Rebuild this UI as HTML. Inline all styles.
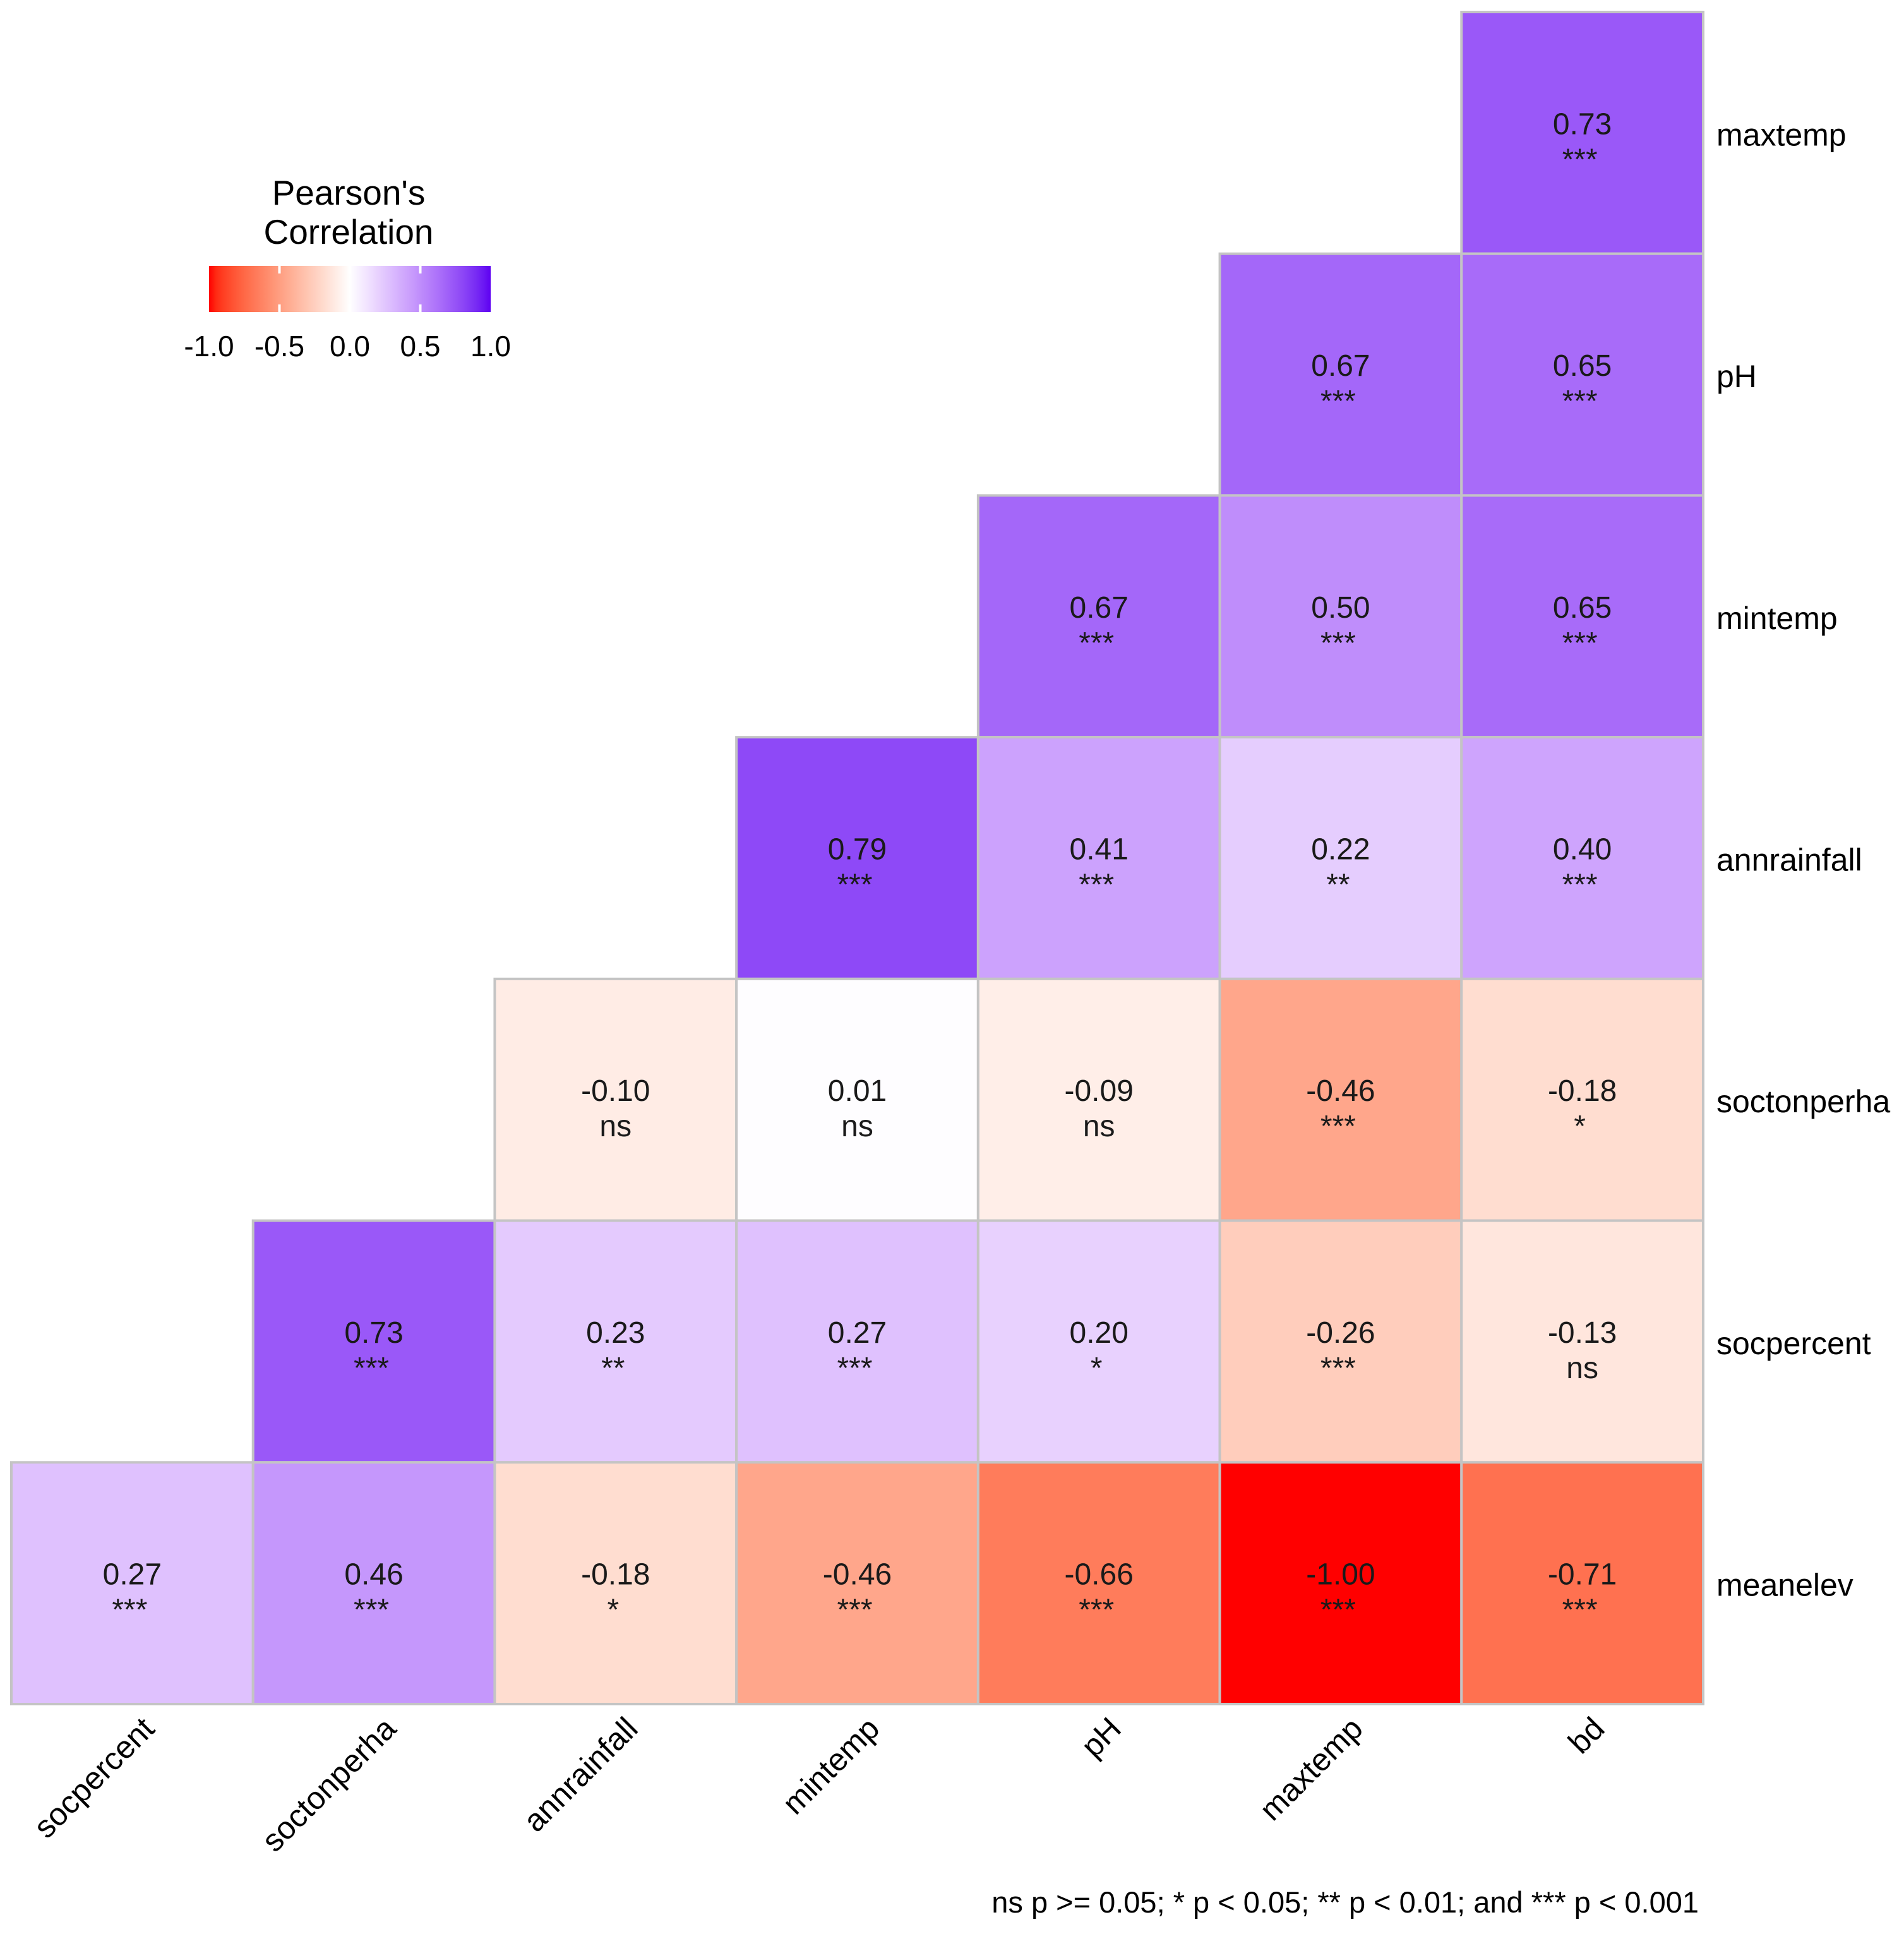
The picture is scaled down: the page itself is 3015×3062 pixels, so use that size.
<!DOCTYPE html>
<html><head><meta charset="utf-8"><style>
html,body{margin:0;padding:0;background:#fff;}
svg{display:block;font-family:"Liberation Sans",Arial,sans-serif;}
</style></head><body>
<svg id="chart" width="3015" height="3062" viewBox="0 0 3015 3062" xmlns="http://www.w3.org/2000/svg">
<defs><linearGradient id="legendGrad" x1="0" x2="1" y1="0" y2="0"></linearGradient></defs>
<g id="cells"></g>
<g id="rowLabels"></g>
<g id="colLabels"></g>
<g id="legend">
  <text x="552" y="324" font-size="55" text-anchor="middle" fill="#000">Pearson's</text>
  <text x="552" y="386" font-size="55" text-anchor="middle" fill="#000">Correlation</text>
  <rect x="331" y="421" width="446" height="73" fill="url(#legendGrad)"/>
  <g id="legendTicks"></g>
</g>
<text x="2690" y="3028" font-size="47" text-anchor="end" fill="#000">ns p &gt;= 0.05; * p &lt; 0.05; ** p &lt; 0.01; and *** p &lt; 0.001</text>
</svg>
<script>
const rowNames = ["maxtemp","pH","mintemp","annrainfall","soctonperha","socpercent","meanelev"];
const colNames = ["socpercent","soctonperha","annrainfall","mintemp","pH","maxtemp","bd"];
const rowMaxtemp = [null,null,null,null,null,null,0.73];
const rowPH = [null,null,null,null,null,0.67,0.65];
const rowMintemp = [null,null,null,null,0.67,0.50,0.65];
const rowAnnrainfall = [null,null,null,0.79,0.41,0.22,0.40];
const rowSoctonperha = [null,null,-0.10,0.01,-0.09,-0.46,-0.18];
const rowSocpercent = [null,0.73,0.23,0.27,0.20,-0.26,-0.13];
const rowMeanelev = [0.27,0.46,-0.18,-0.46,-0.66,-1.00,-0.71];
const sigMaxtemp = ["","","","","","","***"];
const sigPH = ["","","","","","***","***"];
const sigMintemp = ["","","","","***","***","***"];
const sigAnnrainfall = ["","","","***","***","**","***"];
const sigSoctonperha = ["","","ns","ns","ns","***","*"];
const sigSocpercent = ["","***","**","***","*","***","ns"];
const sigMeanelev = ["***","***","*","***","***","***","***"];
const legendTicks = [-1.0,-0.5,0.0,0.5,1.0];
const legendTickLabels = ["-1.0","-0.5","0.0","0.5","1.0"];

const values = [rowMaxtemp,rowPH,rowMintemp,rowAnnrainfall,rowSoctonperha,rowSocpercent,rowMeanelev];
const sigs = [sigMaxtemp,sigPH,sigMintemp,sigAnnrainfall,sigSoctonperha,sigSocpercent,sigMeanelev];
const NS="http://www.w3.org/2000/svg";
const gx0=18, gy0=19, cell=(2697-18)/7;
const xPos = i => gx0 + i*cell;
const yPos = j => gy0 + j*cell;
const lx0=331, lw=446;
const legendX = v => lx0 + (v+1)/2*lw;

function lab2rgb(L,a,b){
  let fy=(L+16)/116, fx=fy+a/500, fz=fy-b/200;
  const f=t=>t**3>0.008856?t**3:(t-16/116)/7.787;
  let X=0.95047*f(fx),Y=1*f(fy),Z=1.08883*f(fz);
  let r=3.2406*X-1.5372*Y-0.4986*Z, g=-0.9689*X+1.8758*Y+0.0415*Z, bb=0.0557*X-0.2040*Y+1.0570*Z;
  const c=u=>{u=Math.max(0,u);u=u>0.0031308?1.055*Math.pow(u,1/2.4)-0.055:12.92*u;return Math.max(0,Math.min(255,Math.round(u*255)));};
  return "rgb("+c(r)+","+c(g)+","+c(bb)+")";
}
function colorOf(v){
  const t=Math.min(1,Math.abs(v));
  const end = v<0 ? [53.24,80.09,67.20] : [35,80,-96];
  return lab2rgb(100+(end[0]-100)*t, end[1]*t, end[2]*t);
}

const cg=document.getElementById('cells');
values.forEach((row,j)=>{
  row.forEach((v,i)=>{
    if(v===null) return;
    const r=document.createElementNS(NS,'rect');
    
    
    r.setAttribute('x',xPos(i)); r.setAttribute('y',yPos(j));
    r.setAttribute('width',cell); r.setAttribute('height',cell);
    r.setAttribute('fill',colorOf(v)); r.setAttribute('stroke','#c4c4c4'); r.setAttribute('stroke-width','4');
    cg.appendChild(r);
  });
});
values.forEach((row,j)=>{
  row.forEach((v,i)=>{
    if(v===null) return;
    const cx=xPos(i)+cell/2, cy=yPos(j)+cell/2;
    const t=document.createElementNS(NS,'text');
    
    
    t.setAttribute('x',cx); t.setAttribute('y',cy+2);
    t.setAttribute('font-size','48'); t.setAttribute('text-anchor','middle'); t.setAttribute('fill','#1a1a1a');
    t.textContent=v.toFixed(2);
    cg.appendChild(t);
    const s=document.createElementNS(NS,'text');
    
    
    const sg=sigs[j][i];
    s.setAttribute('x',cx-(sg==='ns'?0:4)); s.setAttribute('y',cy+(sg==='ns'?58:58));
    s.setAttribute('font-size','48'); s.setAttribute('text-anchor','middle'); s.setAttribute('fill','#1a1a1a');
    s.textContent=sg;
    cg.appendChild(s);
  });
});
const rg=document.getElementById('rowLabels');
rowNames.forEach((n,j)=>{
  const t=document.createElementNS(NS,'text');
  
  
  t.setAttribute('x',2718); t.setAttribute('y',yPos(j)+cell/2+20);
  t.setAttribute('font-size','50'); t.setAttribute('fill','#000');
  t.textContent=n; rg.appendChild(t);
});
const xg=document.getElementById('colLabels');
colNames.forEach((n,i)=>{
  const t=document.createElementNS(NS,'text');
  
  
  const px=xPos(i)+cell/2+38, py=2740;
  t.setAttribute('x',px); t.setAttribute('y',py);
  t.setAttribute('transform','rotate(-45 '+px+' '+py+')');
  t.setAttribute('font-size','50'); t.setAttribute('text-anchor','end'); t.setAttribute('fill','#000');
  t.textContent=n; xg.appendChild(t);
});
const grad=document.getElementById('legendGrad');
for(let k=0;k<=40;k++){
  const v=-1+k/20;
  const st=document.createElementNS(NS,'stop');
  st.setAttribute('offset',(k/40*100)+'%'); st.setAttribute('stop-color',colorOf(v));
  grad.appendChild(st);
}
const tg=document.getElementById('legendTicks');
legendTicks.forEach((v,k)=>{
  const x=legendX(v);
  if(v>-1 && v<1){
    [[421,433],[482,494]].forEach(([a,b])=>{
      const l=document.createElementNS(NS,'line');
      
      
      l.setAttribute('x1',x);l.setAttribute('x2',x);l.setAttribute('y1',a);l.setAttribute('y2',b);
      l.setAttribute('stroke','#fff');l.setAttribute('stroke-width','4');
      tg.appendChild(l);
    });
  }
  const t=document.createElementNS(NS,'text');
  
  
  t.setAttribute('x',x); t.setAttribute('y',564);
  t.setAttribute('font-size','46'); t.setAttribute('text-anchor','middle'); t.setAttribute('fill','#000');
  t.textContent=legendTickLabels[k]; tg.appendChild(t);
});
</script>
</body></html>
